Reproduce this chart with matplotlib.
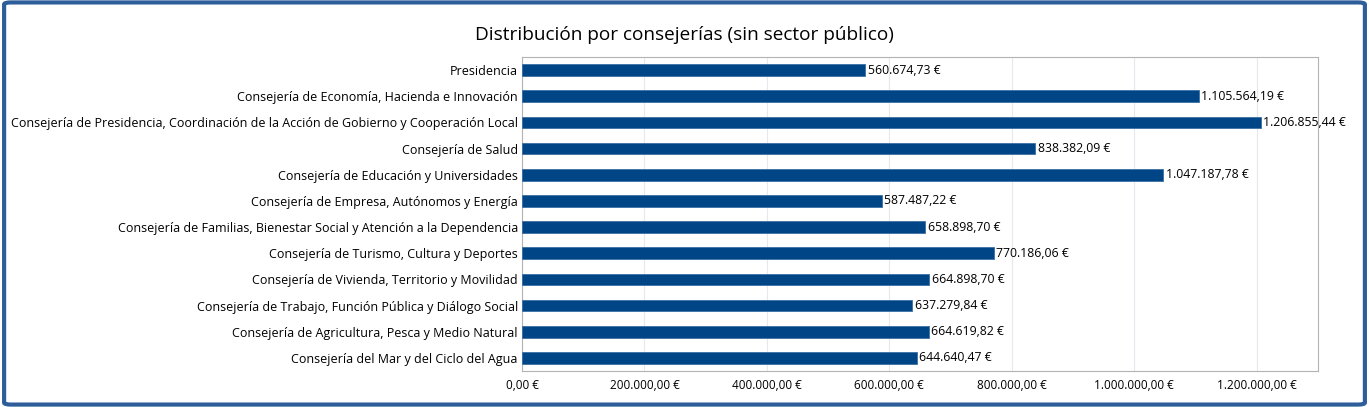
import matplotlib.pyplot as plt
from matplotlib.patches import FancyBboxPatch
from matplotlib.ticker import FuncFormatter

plt.rcParams['font.family'] = ['Open Sans', 'DejaVu Sans']

categories = [
    'Presidencia',
    'Consejería de Economía, Hacienda e Innovación',
    'Consejería de Presidencia, Coordinación de la Acción de Gobierno y Cooperación Local',
    'Consejería de Salud',
    'Consejería de Educación y Universidades',
    'Consejería de Empresa, Autónomos y Energía',
    'Consejería de Familias, Bienestar Social y Atención a la Dependencia',
    'Consejería de Turismo, Cultura y Deportes',
    'Consejería de Vivienda, Territorio y Movilidad',
    'Consejería de Trabajo, Función Pública y Diálogo Social',
    'Consejería de Agricultura, Pesca y Medio Natural',
    'Consejería del Mar y del Ciclo del Agua',
]
values = [560674.73, 1105564.19, 1206855.44, 838382.09, 1047187.78, 587487.22,
          658898.70, 770186.06, 664898.70, 637279.84, 664619.82, 644640.47]


def euro(v):
    s = f'{v:,.2f}'
    s = s.replace(',', 'X').replace('.', ',').replace('X', '.')
    return s + ' €'


fig = plt.figure(figsize=(13.69, 4.07), dpi=100)
fig.patches.append(FancyBboxPatch((0.003, 0.006), 0.994, 0.988, boxstyle='round,pad=0,rounding_size=0.005',
                                  transform=fig.transFigure, facecolor='white',
                                  edgecolor='#2e5e9a', linewidth=3, zorder=-1))

ax = fig.add_axes([0.3813, 0.0885, 0.5814, 0.7715])
y = list(range(len(categories)))
ax.barh(y, values, height=0.45, color='#004586', edgecolor='#3b6fa5', linewidth=0.6, zorder=3)
for yi, v in zip(y, values):
    ax.text(v + 4000, yi, euro(v), va='center', ha='left', fontsize=8.8, color='black', zorder=4)

ax.set_yticks(y)
ax.set_yticklabels(categories, fontsize=9)
ax.set_ylim(len(categories) - 0.5, -0.5)
ax.set_xlim(0, 1300000)
ax.set_xticks(range(0, 1300000, 200000))
ax.xaxis.set_major_formatter(FuncFormatter(lambda v, p: euro(v)))
ax.tick_params(axis='x', labelsize=8.5, length=0, pad=6)
ax.tick_params(axis='y', length=0, pad=3)
ax.grid(axis='x', color='#e6e8f0', linewidth=0.8, zorder=0)
for s in ax.spines.values():
    s.set_color('#b3b3b3')

fig.text(0.5, 0.915, 'Distribución por consejerías (sin sector público)', ha='center', va='center', fontsize=13.7)

fig.savefig('out.png', dpi=100)
